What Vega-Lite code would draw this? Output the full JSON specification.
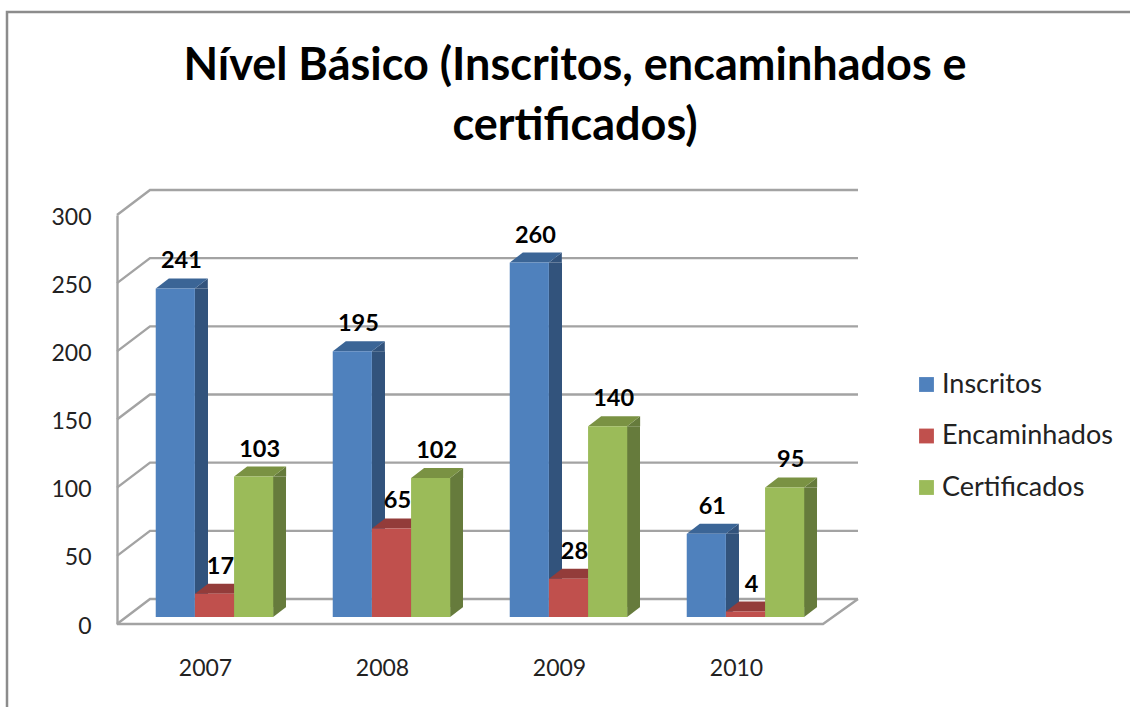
{
"$schema":"https://vega.github.io/schema/vega-lite/v6.json",
"width":708,"height":409,
"autosize":"none",
"padding":{"left":117,"top":215,"right":305,"bottom":83},
"background":"#ffffff",
"title":{"text":["Nível Básico (Inscritos, encaminhados e","certificados)"],"font":"Lato","fontSize":45,"fontWeight":"bold","color":"#000000","anchor":"middle","align":"center","dx":104,"offset":-142,"lineHeight":60},
"config":{"view":{"stroke":null},"font":"Lato"},
"datasets":{
"bars":[
{"ano":"2007","serie":"Inscritos","valor":241},{"ano":"2007","serie":"Encaminhados","valor":17},{"ano":"2007","serie":"Certificados","valor":103},
{"ano":"2008","serie":"Inscritos","valor":195},{"ano":"2008","serie":"Encaminhados","valor":65},{"ano":"2008","serie":"Certificados","valor":102},
{"ano":"2009","serie":"Inscritos","valor":260},{"ano":"2009","serie":"Encaminhados","valor":28},{"ano":"2009","serie":"Certificados","valor":140},
{"ano":"2010","serie":"Inscritos","valor":61},{"ano":"2010","serie":"Encaminhados","valor":4},{"ano":"2010","serie":"Certificados","valor":95}],
"ticks":[{"ano":"2007","t":0},{"ano":"2007","t":50},{"ano":"2007","t":100},{"ano":"2007","t":150},{"ano":"2007","t":200},{"ano":"2007","t":250},{"ano":"2007","t":300}],
"base":[{"ano":"2007","t":0}]
},
"layer":[
{"data":{"name":"base"},
 "mark":{"type":"point","filled":false,"opacity":1,"size":4,"strokeWidth":2.5,"color":"#8C8C8C","shape":"M-198.5,83L-198.5,-612L925,-612"},
 "encoding":{"x":{"field":"ano","type":"nominal"},"y":{"field":"t","type":"quantitative"}}},
{"data":{"name":"ticks"},
 "mark":{"type":"point","filled":false,"opacity":1,"size":4,"strokeWidth":2.4,"color":"#A3A3A3","shape":"M-88.5,0L-55.5,-25L652.5,-25"},
 "encoding":{"x":{"field":"ano","type":"nominal"},"y":{"field":"t","type":"quantitative"}}},
{"data":{"name":"base"},
 "mark":{"type":"point","filled":false,"opacity":1,"size":4,"strokeWidth":2.4,"color":"#A3A3A3","shape":"M-88.5,0L617.5,0L652.5,-25"},
 "encoding":{"x":{"field":"ano","type":"nominal"},"y":{"field":"t","type":"quantitative"}}},
{"data":{"name":"bars"},"transform":[{"filter":"datum.serie==='Inscritos'"}],
 "mark":{"type":"bar","width":13,"xOffset":-4,"yOffset":-7,"y2Offset":-17,"color":"#32537C"},
 "encoding":{"y2":{"datum":0}}},
{"data":{"name":"bars"},"transform":[{"filter":"datum.serie==='Encaminhados'"}],
 "mark":{"type":"bar","width":13,"xOffset":35,"yOffset":-7,"y2Offset":-17,"color":"#8A3836"},
 "encoding":{"y2":{"datum":0}}},
{"data":{"name":"bars"},"transform":[{"filter":"datum.serie==='Certificados'"}],
 "mark":{"type":"bar","width":13,"xOffset":74,"yOffset":-7,"y2Offset":-17,"color":"#667B3C"},
 "encoding":{"y2":{"datum":0}}},
{"data":{"name":"bars"},
 "mark":{"type":"point","filled":true,"opacity":1,"size":4,"strokeWidth":0,"yOffset":-7,"shape":"M19.5,0L32.5,-10L32.5,0Z"},
 "encoding":{"xOffset":{"field":"serie","type":"nominal","scale":{"domain":["Inscritos","Encaminhados","Certificados"],"range":[9,126.5]}},"color":{"field":"serie","type":"nominal","legend":null,"scale":{"domain":["Inscritos","Encaminhados","Certificados"],"range":["#32537C","#8A3836","#667B3C"]}}}},
{"data":{"name":"bars"},
 "mark":{"type":"point","filled":true,"opacity":1,"size":4,"strokeWidth":0,"shape":"M19.5,-7L32.5,-17L19.5,-17Z"},
 "encoding":{"xOffset":{"field":"serie","type":"nominal"},"y":{"datum":0},"color":{"field":"serie","type":"nominal","legend":null,"scale":{"domain":["Inscritos","Encaminhados","Certificados"],"range":["#32537C","#8A3836","#667B3C"]}}}},
{"data":{"name":"bars"},
 "mark":{"type":"point","filled":true,"opacity":1,"size":4,"strokeWidth":0,"yOffset":-7,"shape":"M-19.5,0L-6.5,-10L32.5,-10L19.5,0Z"},
 "encoding":{"xOffset":{"field":"serie","type":"nominal"},"color":{"field":"serie","type":"nominal","legend":null,"scale":{"domain":["Inscritos","Encaminhados","Certificados"],"range":["#3B6596","#933C3A","#7A9243"]}}}},
{"data":{"name":"bars"},
 "mark":{"type":"bar","yOffset":-7,"y2Offset":-7},
 "encoding":{"xOffset":{"field":"serie","type":"nominal"},"y2":{"datum":0},"color":{"field":"serie","type":"nominal","title":null,"scale":{"domain":["Inscritos","Encaminhados","Certificados"],"range":["#4F81BD","#C0504D","#9BBB59"]},
   "legend":{"orient":"none","legendX":796,"legendY":156,"symbolType":"square","symbolSize":220,"symbolStrokeWidth":0,"labelFont":"Lato","labelFontSize":27,"labelColor":"#222222","labelOffset":2,"rowPadding":23.5,"labelLimit":220}}}},
{"data":{"name":"bars"},
 "mark":{"type":"text","font":"Lato","fontSize":23.5,"fontWeight":"bold","color":"#000000","dx":6,"dy":-34,"baseline":"middle"},
 "encoding":{"xOffset":{"field":"serie","type":"nominal"},"text":{"field":"valor","type":"quantitative"}}}
],
"encoding":{
 "x":{"field":"ano","type":"nominal","title":null,"scale":{"paddingInner":0.336,"paddingOuter":0.168},"axis":{"domain":false,"ticks":false,"labelAngle":0,"labelFont":"Lato","labelFontSize":23,"labelColor":"#222222","labelPadding":44,"labelBaseline":"middle","grid":false}},
 "y":{"field":"valor","type":"quantitative","title":null,"stack":null,"scale":{"domain":[0,300],"nice":false},"axis":{"values":[0,50,100,150,200,250,300],"domain":true,"domainColor":"#A3A3A3","domainWidth":2.4,"ticks":false,"grid":false,"labelFont":"Lato","labelFontSize":23,"labelColor":"#222222","labelPadding":26,"labelBaseline":"middle","labelOffset":2}}
},
"resolve":{"scale":{"color":"independent"}}
}
